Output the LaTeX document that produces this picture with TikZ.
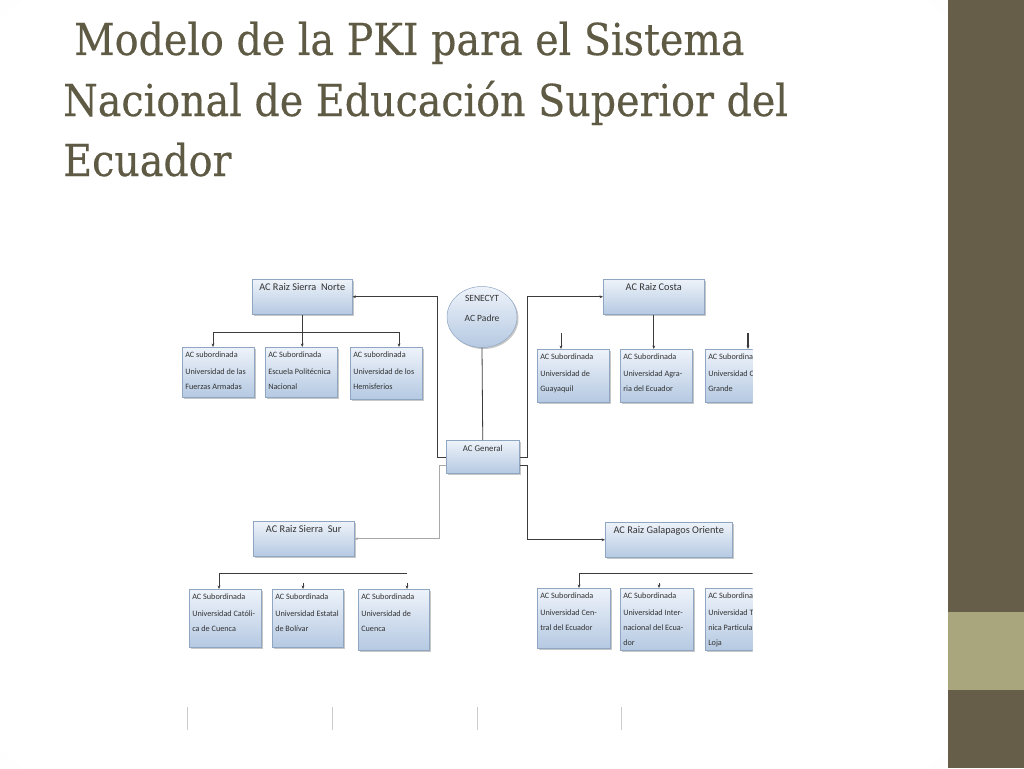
\documentclass[tikz,border=0pt]{standalone}
\usepackage{fontspec}
\setmainfont{Carlito}
\newfontfamily\titlefont[FakeStretch=0.90,FakeBold=0.3]{DejaVu Serif}
\usetikzlibrary{arrows.meta,shapes.geometric,shadows}
\definecolor{titlecol}{HTML}{5E5A44}
\definecolor{barcol}{HTML}{665E48}
\definecolor{bandcol}{HTML}{A9A67E}
\definecolor{boxtop}{HTML}{EEF3FA}
\definecolor{boxbot}{HTML}{B5C9E2}
\definecolor{boxline}{HTML}{8FA6C2}
\definecolor{txtcol}{HTML}{333333}
\definecolor{linedark}{HTML}{3C3C3C}
\definecolor{linegrey}{HTML}{A8A8A8}
\pgfdeclareradialshading{vign}{\pgfpoint{0bp}{0bp}}{color(0bp)=(white); color(34bp)=(white); color(50bp)=(black!6); color(72bp)=(black!14)}
\newcommand\subtxt[4]{\parbox[c][#1pt][t]{#2pt}{\raggedright\leftskip=3pt\fontsize{8.2}{15}\selectfont\strut#3\par\vspace{2pt}#4}}
\newcommand\roottxt[4]{\parbox[c][#1pt][t]{#2pt}{\centering\fontsize{#3}{14}\selectfont\vspace*{1pt}\strut#4}}
\begin{document}
\begin{tikzpicture}[x=1pt,y=-1pt,
  box/.style={draw=boxline, line width=0.5pt, top color=boxtop, bottom color=boxbot,
    inner sep=0pt, text=txtcol, anchor=north west,
    drop shadow={shadow xshift=1.5pt, shadow yshift=-1.5pt, fill=black!40, opacity=0.55}},
  ell/.style={ellipse, draw=boxline, line width=0.5pt, top color=boxtop, bottom color=boxbot,
    inner sep=0pt, text=txtcol, align=center, font=\fontsize{9.5}{13}\selectfont,
    drop shadow={shadow xshift=1.5pt, shadow yshift=-1.5pt, fill=black!40, opacity=0.55}},
  conn/.style={draw=linedark, line width=0.8pt},
  connl/.style={draw=linegrey, line width=0.8pt},
  tip/.style={-{Stealth[length=3.5pt,width=2.8pt]}},
  titletxt/.style={anchor=base west, inner sep=0pt, text=titlecol,
    font=\titlefont\fontsize{44}{48}\selectfont}]
\useasboundingbox (0,0) rectangle (1024,768);
% background
\shade[shading=vign] (0,0) rectangle (948,768);
\fill[barcol] (948,0) rectangle (1024,768);
\fill[bandcol] (948,612) rectangle (1024,690);
% title
\node[titletxt] (t1) at (74,55) {Modelo de la PKI para el Sistema};
\node[titletxt] (t2) at (63,116) {Nacional de Educación Superior del};
\node[titletxt] (t3) at (63,176) {Ecuador};
% diagram
\begin{scope}
\clip (150,250) rectangle (752.5,700);
% center
\node[ell, minimum width=70pt, minimum height=61pt] (sen) at (482,317) {SENECYT\\[7pt]AC Padre\\[0pt]\strut};
\node[box] (gen) at (446,440) {\roottxt{33}{73}{8.8}{AC General}};
% roots
\node[box] (sn) at (252,279) {\roottxt{35}{100}{10.3}{AC Raiz Sierra\ \ Norte}};
\node[box] (co) at (603,279) {\roottxt{35}{101}{10.3}{AC Raiz Costa}};
\node[box] (ss) at (253,521) {\roottxt{35}{101}{10.3}{AC Raiz Sierra\ \ Sur}};
\node[box] (ga) at (605,522) {\roottxt{35}{127}{10.3}{AC Raiz Galapagos Oriente}};
% children sierra norte
\node[box] (c1) at (182,347) {\subtxt{50}{72}{AC subordinada}{Universidad de las\\Fuerzas Armadas}};
\node[box] (c2) at (265,347) {\subtxt{50}{72}{AC Subordinada}{Escuela Politécnica\\Nacional}};
\node[box] (c3) at (350,347) {\subtxt{52}{72}{AC subordinada}{Universidad de los\\Hemisferios}};
% children costa
\node[box] (d1) at (537,349) {\subtxt{53}{72}{AC Subordinada}{Universidad de\\Guayaquil}};
\node[box] (d2) at (620,349) {\subtxt{53}{72}{AC Subordinada}{Universidad Agra-\\ria del Ecuador}};
\node[box] (d3) at (705,349) {\subtxt{53}{72}{AC Subordinada}{Universidad Casa\\Grande}};
% children sierra sur
\node[box] (e1) at (189,589) {\subtxt{58}{72}{AC Subordinada}{Universidad Católi-\\ca de Cuenca}};
\node[box] (e2) at (272,589) {\subtxt{58}{71}{AC Subordinada}{Universidad Estatal\\de Bolívar}};
\node[box] (e3) at (358,589) {\subtxt{61}{71}{AC Subordinada}{Universidad de\\Cuenca}};
% children galapagos oriente
\node[box] (f1) at (537,588) {\subtxt{60}{73}{AC Subordinada}{Universidad Cen-\\tral del Ecuador}};
\node[box] (f2) at (620,588) {\subtxt{62}{73}{AC Subordinada}{Universidad Inter-\\nacional del Ecua-\\dor}};
\node[box] (f3) at (705,588) {\subtxt{62}{72}{AC Subordinada}{Universidad Téc-\\nica Particular de\\Loja}};
% main connectors
\draw[conn] (sen.south) -- (gen.north);
\draw[conn,tip] ([yshift=-17pt]gen.north west) -- ++(-9,0) |- (sn.east);
\draw[connl,tip] ([yshift=-25pt]gen.north west) -- ++(-7,0) |- (ss.east);
\draw[conn,tip] ([yshift=-17pt]gen.north east) -- ++(8,0) |- (co.west);
\draw[conn,tip] ([yshift=-25pt]gen.north east) -- ++(8,0) |- (ga.west);
% sierra norte tree
\coordinate (snL) at (213,332);
\coordinate (snR) at (399,332);
\draw[conn] (sn.south) -- (sn.south |- snL);
\draw[conn] (snL) -- (snR);
\draw[conn,tip] (snL) -- (snL |- c1.north);
\draw[conn,tip] (sn.south |- snL) -- (c2.north -| sn.south);
\draw[conn,tip] (snR) -- (snR |- c3.north);
% costa tree
\draw[conn,tip] (co.south) -- (co.south |- d2.north);
\coordinate (d1t) at (561,333);
\coordinate (d3t) at (748,333);
\draw[conn,line width=0.5pt,tip] (d1t) -- (d1t |- d1.north);
\draw[conn,line width=1.1pt,tip] (d3t) -- (d3t |- d3.north);
% sierra sur tree
\coordinate (ssL) at (219,573);
\coordinate (ssR) at (407,573);
\coordinate (ssM) at (303,583);
\draw[conn] (ssL) -- (ssR);
\draw[conn,tip] (ssL) -- (ssL |- e1.north);
\draw[conn,line width=0.5pt,tip] (ssM) -- (ssM |- e2.north);
\draw[conn,line width=0.5pt,tip] ([yshift=-10pt]ssR) -- (ssR |- e3.north);
% galapagos tree
\coordinate (gaL) at (579,573);
\coordinate (gaR) at (760,573);
\coordinate (gaM) at (659,583);
\draw[conn] (gaL) -- (gaR);
\draw[conn,tip] (gaL) -- (gaL |- f1.north);
\draw[conn,line width=0.5pt,tip] (gaM) -- (gaM |- f2.north);
\end{scope}
% remnants at the bottom
\foreach \xx in {187,332,477,621}
  \draw[linegrey!60, line width=0.8pt] (\xx,707) -- (\xx,730);
\end{tikzpicture}
\end{document}
